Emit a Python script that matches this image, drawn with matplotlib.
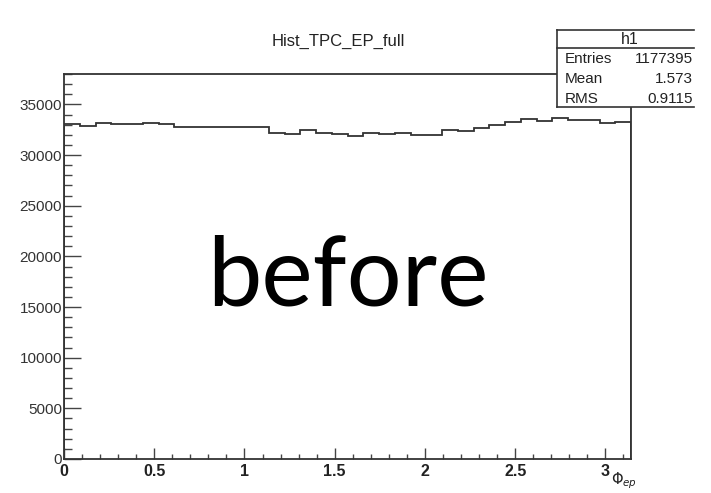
"""Event-plane angle histogram (ROOT-style)."""
import numpy as np
from matplotlib import pyplot as plt
from matplotlib.lines import Line2D
from matplotlib.ticker import MultipleLocator

plt.rcParams['font.family'] = ['Liberation Sans', 'DejaVu Sans']

# bin contents, 36 bins over [0, pi]
counts = [33040, 32870, 33200, 33040, 33040, 33200, 33100, 32800, 32800,
          32800, 32800, 32800, 32800, 32200, 32100, 32470, 32150, 32050,
          31900, 32200, 32050, 32200, 31950, 31950, 32470, 32370, 32700,
          32940, 33270, 33530, 33370, 33700, 33430, 33430, 33140, 33300]
edges = np.linspace(0, np.pi, len(counts) + 1)

hist_name = 'h1'
title = 'Hist_TPC_EP_full'
stat_names = ['Entries', 'Mean', 'RMS']
stat_values = ['1177395', '1.573', '0.9115']

W, H = 711, 493
fig = plt.figure(figsize=(W / 100, H / 100), dpi=100)
ax = fig.add_axes([64 / W, 1 - 459 / H, 567 / W, 385 / H])

ax.stairs(counts, edges, color='#333333', lw=1.3)
ax.set_xlim(0, np.pi)
ax.set_ylim(0, 38000)

ax.xaxis.set_major_locator(MultipleLocator(0.5))
ax.xaxis.set_minor_locator(MultipleLocator(0.1))
ax.yaxis.set_major_locator(MultipleLocator(5000))
ax.yaxis.set_minor_locator(MultipleLocator(1000))
ax.set_xticks([0, 0.5, 1, 1.5, 2, 2.5, 3])
ax.set_xticklabels(['0', '0.5', '1', '1.5', '2', '2.5', '3'])

ax.tick_params(axis='x', which='major', direction='in', length=8, width=1,
               color='#444444', pad=3.5, labelsize=11.5, labelcolor='#222222')
ax.tick_params(axis='x', which='minor', direction='in', length=3.8, width=1,
               color='#444444')
ax.tick_params(axis='y', which='major', direction='in', length=12, width=1,
               color='#444444', pad=1.5, labelsize=11, labelcolor='#333333')
ax.tick_params(axis='y', which='minor', direction='in', length=6, width=1,
               color='#444444')
for lab in ax.get_xticklabels():
    lab.set_fontweight('bold')
for sp in ax.spines.values():
    sp.set_linewidth(1.3)
    sp.set_color('#333333')

# title and axis label
fig.text(338 / W, 1 - 46 / H, title, ha='center', va='baseline',
         fontsize=12, color='#222222')
fig.text(611 / W, 1 - 470 / H, r'$\Phi_{ep}$', ha='left', va='top',
         fontsize=10.5, color='#222222')

# stats box
fig.patches.append(plt.Rectangle((557 / W, 1 - 107 / H), 140 / W, 77 / H,
                                 transform=fig.transFigure, facecolor='white',
                                 edgecolor='none', zorder=3))
for xs, ys in [([557, 694], [30, 30]), ([557, 694], [48, 48]),
               ([557, 694], [107, 107]), ([557, 557], [30, 107])]:
    fig.add_artist(Line2D([x / W for x in xs], [1 - y / H for y in ys],
                          color='#333333', lw=1.2, zorder=4))
fig.text(630 / W, 1 - 39 / H, hist_name, ha='center', va='center',
         fontsize=11.5, color='#222222', zorder=5)
for i, (name, val) in enumerate(zip(stat_names, stat_values)):
    y = 1 - (59 + 20 * i) / H
    fig.text(565 / W, y, name, ha='left', va='center', fontsize=11,
             color='#222222', zorder=5)
    fig.text(693 / W, y, val, ha='right', va='center', fontsize=11,
             color='#222222', zorder=5)

# annotation across the plot
fig.text(348 / W, 1 - 305 / H, 'before', ha='center', va='baseline',
         fontsize=70, family='Lato', color='black')

fig.savefig('out.png', dpi=100)
